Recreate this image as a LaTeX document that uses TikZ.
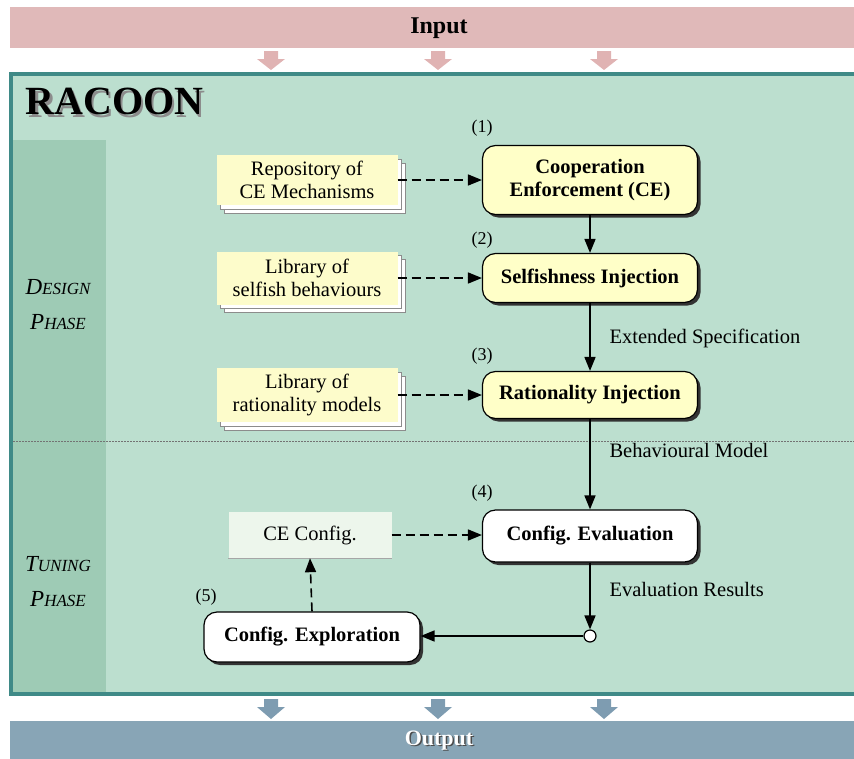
\documentclass[tikz,border=0pt]{standalone}
\usepackage{fontspec}
\setmainfont{Liberation Serif}
\usetikzlibrary{arrows.meta,shadows}
\definecolor{inputc}{HTML}{E0B9B9}
\definecolor{inarrow}{HTML}{E0B3B3}
\definecolor{outputc}{HTML}{88A5B6}
\definecolor{outarrow}{HTML}{7E9CB1}
\definecolor{mainc}{HTML}{BCDFCF}
\definecolor{colc}{HTML}{9ECBB5}
\definecolor{borderc}{HTML}{3F8A87}
\definecolor{yel}{HTML}{FFFFC8}
\definecolor{stackyel}{HTML}{FDFCCB}
\definecolor{confc}{HTML}{EDF6EC}
\tikzset{
  txt/.style={font=\fontsize{20.5}{23}\selectfont, align=center},
  btxt/.style={font=\bfseries\fontsize{20.5}{23}\selectfont, align=center},
  numlbl/.style={font=\fontsize{18}{20}\selectfont},
  edgelbl/.style={font=\fontsize{20.5}{23}\selectfont, anchor=west},
  phaselbl/.style={font=\itshape\fontsize{23}{35}\selectfont, align=center},
  procbox/.style={btxt, draw=black, line width=1.2pt, rounded corners=13pt,
    minimum width=215pt, inner sep=2pt,
    drop shadow={shadow xshift=3pt, shadow yshift=-3pt, fill=black!80, opacity=1}},
  stackbox/.style={txt, fill=stackyel, minimum width=181pt, inner sep=2pt,
    double copy shadow={shadow xshift=4pt, shadow yshift=-4pt, fill=white, draw=black!45, line width=0.6pt}},
  solidarr/.style={line width=1.6pt, -{Triangle[length=14pt,width=11pt]}},
  dasharr/.style={line width=1.6pt, dash pattern=on 9pt off 5pt, -{Triangle[length=14pt,width=11pt]}},
}
\newcommand{\smc}[1]{{\fontsize{17}{35}\selectfont #1}}
\newcommand{\shadowtext}[3]{\makebox[0pt][l]{\hspace{#1}\raisebox{-#1}{\textcolor{#2}{#3}}}#3}
\begin{document}
\begin{tikzpicture}[x=1pt,y=-1pt]
\useasboundingbox (0,0) rectangle (854,758);
\clip (0,0) rectangle (854,758);
% input bar
\fill[inputc] (10,7) rectangle (870,48);
\node[font=\bfseries\fontsize{24}{28}\selectfont] (input) at (439,28) {Input};
\foreach \x in {271,438,604}{
  \fill[inarrow] (\x-7,51) -- (\x+7,51) -- (\x+7,59) -- (\x+14,59) -- (\x,70) -- (\x-14,59) -- (\x-7,59) -- cycle;
}
% main box
\draw[line width=3.5pt, draw=borderc, fill=mainc] (11,74) rectangle (872,694);
\fill[colc] (13,140) rectangle (106,692);
\draw[black!55, dash pattern=on 1.5pt off 1.5pt, line width=0.6pt] (13,441) -- (854,441);
\node[anchor=west, font=\bfseries\fontsize{40}{44}\selectfont] (racoon) at (22,103) {\shadowtext{2.5pt}{black!45}{RACOON}};
\node[phaselbl] (design) at (58,305) {D\smc{ESIGN}\\P\smc{HASE}};
\node[phaselbl] (tuning) at (58,582) {T\smc{UNING}\\P\smc{HASE}};
% process boxes
\node[procbox, fill=yel, minimum height=69pt] (ce) at (590,180) {Cooperation\\Enforcement (CE)};
\node[procbox, fill=yel, minimum height=49pt] (si) at (590,278) {Selfishness Injection};
\node[procbox, fill=yel, minimum height=47pt] (ri) at (590,395) {Rationality Injection};
\node[procbox, fill=white, minimum height=52pt] (ev) at (590,536) {Config. Evaluation};
\node[procbox, fill=white, minimum height=50pt, minimum width=216pt] (ex) at (312,637) {Config. Exploration};
% stacks
\node[stackbox, minimum height=50pt] (rep) at (307,180) {Repository of\\CE Mechanisms};
\node[stackbox, minimum height=53pt] (lsb) at (307,278) {Library of\\selfish behaviours};
\node[stackbox, minimum height=54pt] (lrm) at (307,395) {Library of\\rationality models};
\node[txt, fill=confc, minimum width=163pt, minimum height=46pt] (conf) at (310,535) {CE Config.};
\draw[black!35, line width=0.8pt] (conf.south west) -- (conf.south east);
% numbers
\node[numlbl] (n1) at (482,128) {(1)};
\node[numlbl] (n2) at (482,240) {(2)};
\node[numlbl] (n3) at (482,356) {(3)};
\node[numlbl] (n4) at (482,493) {(4)};
\node[numlbl] (n5) at (206,597) {(5)};
% junction
\node[circle, draw=black, fill=white, line width=1.2pt, minimum size=12pt, inner sep=0pt] (j) at (590,636) {};
% connectors
\draw[dasharr] (rep.east) -- (ce.west);
\draw[dasharr] (lsb.east) -- (si.west);
\draw[dasharr] (lrm.east) -- (ri.west);
\draw[dasharr] (conf.east) -- (ev.west |- conf.east);
\draw[dasharr] (ex.north) -- (conf.south);
\draw[solidarr] (ce.south) -- (si.north);
\draw[solidarr] (si.south) -- (ri.north);
\draw[solidarr] (ri.south) -- (ev.north);
\draw[solidarr] (ev.south) -- (j.north);
\draw[solidarr] (j.west) -- (ex.east |- j.west);
\node[edgelbl] (l1) at (606,338) {Extended Specification};
\node[edgelbl] (l2) at (606,450) {Behavioural Model};
\node[edgelbl] (l3) at (606,589) {Evaluation Results};
% output
\foreach \x in {271,438,604}{
  \fill[outarrow] (\x-7,699) -- (\x+7,699) -- (\x+7,707) -- (\x+14,707) -- (\x,719) -- (\x-14,707) -- (\x-7,707) -- cycle;
}
\fill[outputc] (10,721) rectangle (870,770);
\node[font=\bfseries\fontsize{22}{26}\selectfont, text=white] (output) at (439,741) {\shadowtext{1.5pt}{black!70}{Output}};
\end{tikzpicture}
\end{document}
